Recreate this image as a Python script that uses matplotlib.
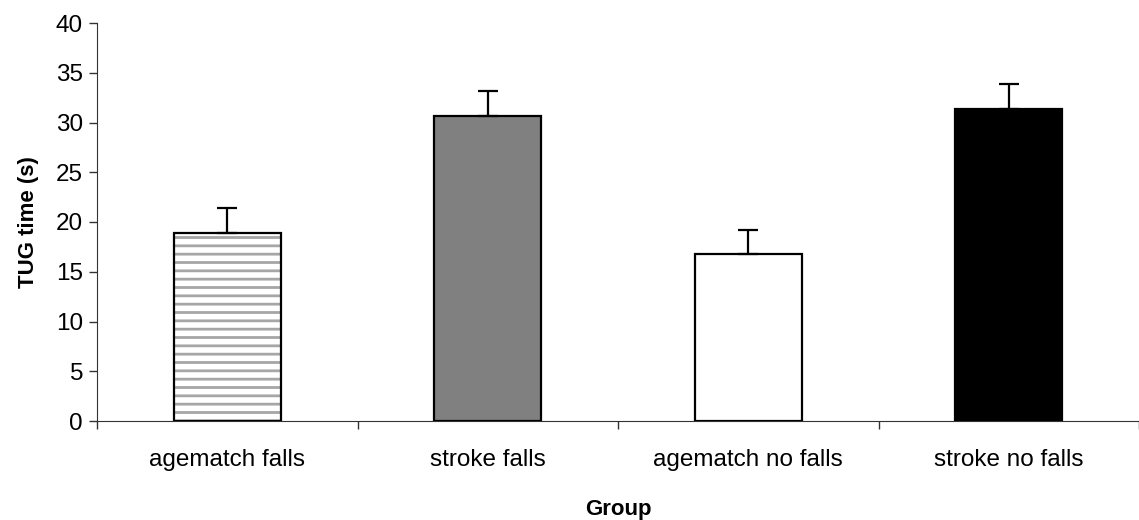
import matplotlib
matplotlib.use("Agg")
import matplotlib.pyplot as plt

groups = ["agematch falls", "stroke falls", "agematch no falls", "stroke no falls"]
tug_time = [18.9, 30.7, 16.8, 31.4]
tug_err = [2.5, 2.5, 2.4, 2.5]
faces = ["white", "#808080", "white", "black"]
hatches = ["--", None, None, None]

plt.rcParams["font.family"] = ["Liberation Sans", "DejaVu Sans"]
plt.rcParams["hatch.linewidth"] = 2.0

fig = plt.figure(figsize=(11.39, 5.2), dpi=100)
ax = fig.add_axes([97 / 1139, 1 - 421 / 520, 1 - 97 / 1139, 398 / 520])

pos = list(range(1, len(groups) + 1))

# hatch layer first (grey lines), then outline on top
for p, v, h in zip(pos, tug_time, hatches):
	if h:
		ax.bar(p, v, width=0.41, color="white", edgecolor="#a6a6a6", hatch=h, linewidth=0, zorder=2)
ax.bar(pos, tug_time, width=0.41,
	   color=[f if h is None else "none" for f, h in zip(faces, hatches)],
	   edgecolor="black", linewidth=1.6, zorder=3)
ax.errorbar(pos, tug_time, yerr=[[0] * len(tug_err), tug_err], fmt="none",
			ecolor="black", elinewidth=1.6, capsize=7.5, capthick=1.6, zorder=4)

ax.set_xlim(0.5, 4.5)
ax.set_ylim(0, 40)
ax.set_yticks(range(0, 41, 5))
ax.tick_params(axis="y", labelsize=17.5, length=6, width=1, direction="out", pad=4, color="#333333")

ax.set_xticks([0.5, 1.5, 2.5, 3.5, 4.5])
ax.set_xticklabels([])
ax.tick_params(axis="x", which="major", length=6, width=1, direction="out", color="#333333")
ax.set_xticks(pos, minor=True)
ax.set_xticklabels(groups, minor=True)
ax.tick_params(axis="x", which="minor", length=0, labelsize=17.5, pad=20)

for s in ["top", "right"]:
	ax.spines[s].set_visible(False)
ax.spines["left"].set_color("#333333")
ax.spines["bottom"].set_color("#333333")

ax.set_ylabel("TUG time (s)", fontsize=16, fontweight="bold", labelpad=12)
ax.set_xlabel("Group", fontsize=16, fontweight="bold", labelpad=20)

fig.savefig("out.png", dpi=100)
